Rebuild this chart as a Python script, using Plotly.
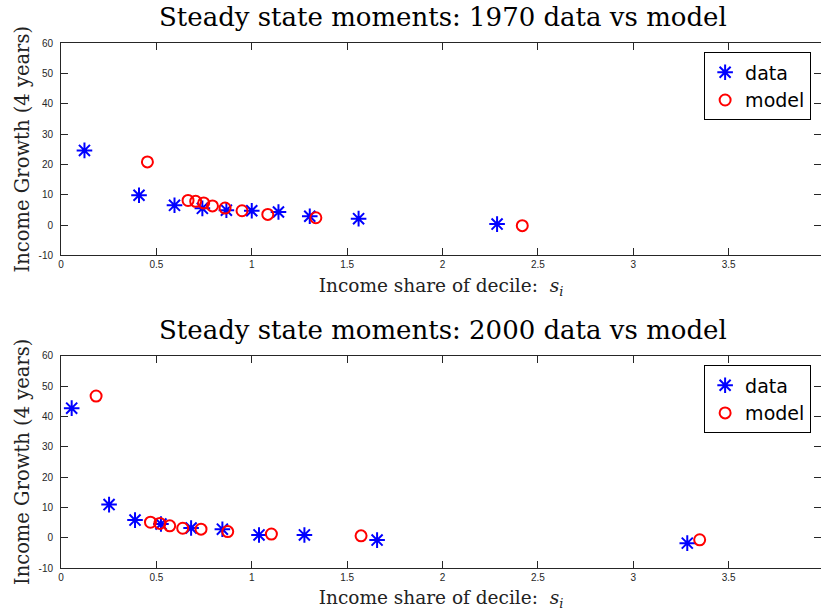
import plotly.graph_objects as go

# ---- data ----
data1970_x = [0.123, 0.409, 0.595, 0.741, 0.867, 1.000, 1.140, 1.304, 1.560, 2.286]
data1970_y = [24.6, 9.8, 6.5, 5.5, 4.9, 4.7, 4.3, 2.9, 2.1, 0.3]
model1970_x = [0.453, 0.666, 0.706, 0.748, 0.794, 0.860, 0.949, 1.084, 1.336, 2.418]
model1970_y = [20.8, 8.1, 7.8, 7.3, 6.3, 5.6, 4.7, 3.5, 2.4, -0.2]

data2000_x = [0.056, 0.252, 0.388, 0.524, 0.682, 0.846, 1.038, 1.276, 1.657, 3.283]
data2000_y = [42.7, 10.9, 5.8, 4.5, 3.2, 2.8, 0.9, 0.9, -0.8, -1.8]
model2000_x = [0.184, 0.469, 0.518, 0.570, 0.638, 0.734, 0.874, 1.103, 1.573, 3.348]
model2000_y = [46.7, 5.1, 4.7, 3.9, 3.1, 2.8, 2.0, 1.2, 0.6, -0.7]

x_tickvals = [0, 0.5, 1, 1.5, 2, 2.5, 3, 3.5]
x_ticktext = ["0", "0.5", "1", "1.5", "2", "2.5", "3", "3.5"]
y_tickvals = [-10, 0, 10, 20, 30, 40, 50, 60]
y_ticktext = ["-10", "0", "10", "20", "30", "40", "50", "60"]

titles = ["Steady state moments: 1970 data vs model",
          "Steady state moments: 2000 data vs model"]
x_title = "Income share of decile:  <i>s</i><sub><i>i</i></sub>"
y_title = "Income Growth (4 years)"

BLUE = "#0000FF"
RED = "#FF0000"
SERIF = "DejaVu Serif"
SANS = "Liberation Sans, Arial, sans-serif"
LEGF = "DejaVu Sans"
AXC = "#262626"

fig = go.Figure()

def add_pair(dx, dy, mx, my, xa, ya, legend):
    fig.add_trace(go.Scatter(
        x=dx, y=dy, mode="markers", name="data", xaxis=xa, yaxis=ya, legend=legend,
        marker=dict(symbol="asterisk-open", size=13, color=BLUE,
                    line=dict(color=BLUE, width=2))))
    fig.add_trace(go.Scatter(
        x=mx, y=my, mode="markers", name="model", xaxis=xa, yaxis=ya, legend=legend,
        marker=dict(symbol="circle-open", size=11, color=RED,
                    line=dict(color=RED, width=2))))

add_pair(data1970_x, data1970_y, model1970_x, model1970_y, "x", "y", "legend")
add_pair(data2000_x, data2000_y, model2000_x, model2000_y, "x2", "y2", "legend2")

XR = [0, 3.984]
common_x = dict(range=XR, tickvals=x_tickvals, ticktext=x_ticktext, ticks="inside",
                ticklen=7, tickcolor=AXC, showline=True, linecolor=AXC, linewidth=1,
                mirror="ticks", showgrid=False, zeroline=False,
                tickfont=dict(family=SANS, size=10, color=AXC),
                title=dict(text=x_title, font=dict(family=SERIF, size=18.5, color="#222222"),
                           standoff=9))
common_y = dict(range=[-10, 60], tickvals=y_tickvals, ticktext=y_ticktext, ticks="inside",
                ticklen=7, tickcolor=AXC, showline=True, linecolor=AXC, linewidth=1,
                mirror="ticks", showgrid=False, zeroline=False,
                tickfont=dict(family=SANS, size=10, color=AXC), ticklabelstandoff=5,
                title=dict(text=y_title, font=dict(family=SERIF, size=19.5, color="#222222"),
                           standoff=3))

top_dom = [0.5955, 1.0]
bot_dom = [0.0, 0.4044]

leg_common = dict(bordercolor="#000000", borderwidth=1, bgcolor="#FFFFFF",
                  font=dict(family=LEGF, size=19, color="#000000"),
                  xanchor="right", yanchor="top", tracegroupgap=0, itemwidth=30)

fig.update_layout(
    width=821, height=614,
    margin=dict(l=61, r=0, t=43, b=46),
    paper_bgcolor="#FFFFFF", plot_bgcolor="#FFFFFF",
    xaxis=dict(common_x, domain=[0, 1], anchor="y"),
    yaxis=dict(common_y, domain=top_dom, anchor="x"),
    xaxis2=dict(common_x, domain=[0, 1], anchor="y2"),
    yaxis2=dict(common_y, domain=bot_dom, anchor="x2"),
    legend=dict(leg_common, x=0.987, y=0.982),
    legend2=dict(leg_common, x=0.987, y=0.386),
    showlegend=True,
)

# subplot titles
for title, dom in zip(titles, [top_dom, bot_dom]):
    fig.add_annotation(text=title, xref="paper", yref="paper", x=0.503, y=dom[1],
                       xanchor="center", yanchor="bottom", yshift=9, showarrow=False,
                       font=dict(family=SERIF, size=26, color="#000000"))

fig.write_html("out.html")
